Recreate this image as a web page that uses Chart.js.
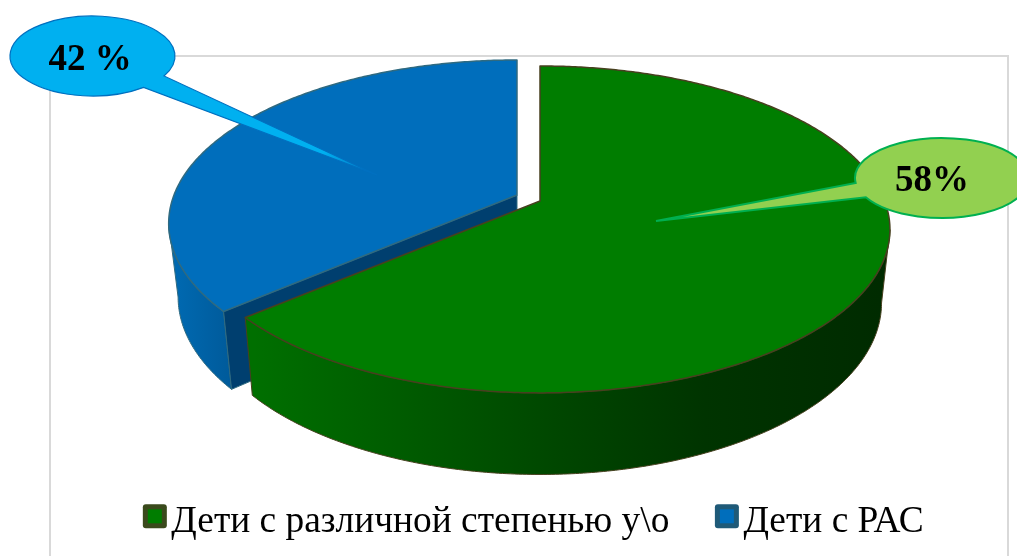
<!DOCTYPE html>
<html>
<head>
<meta charset="utf-8">
<script src="https://cdn.jsdelivr.net/npm/chart.js@4"></script>
<style>
  html, body { margin: 0; padding: 0; background: #fff; overflow: hidden; }
  canvas { display: block; }
</style>
</head>
<body>
<canvas id="pie_chart" width="1017" height="556"></canvas>
<script>
const categories = ['Дети с различной степенью у\\о', 'Дети с РАС'];
const sliceShares = [63.7, 36.3];
const calloutLabels = ['58%', '42 %'];

const serif = '"Liberation Serif", "Times New Roman", serif';
const topColors = ['#007d00', '#006ebc'];
const edgeColors = ['#47401f', '#2f6a80'];
const swatchEdges = ['#3a4a1c', '#1f5a78'];

// perspective of the pie: tilt and foreshortening
const view = {
  apexes: [{ x: 540, y: 201 }, { x: 517, y: 195 }],
  rx: [344.6, 343], ry: 158.5, tilt: 0.174,
  depth: 72, depthGrow: 0.05, shrink: [0.976, 0.973],
  // where the rim turns away from the viewer, in turns of PI from the top
  wallFrom: 0.556, wallTo: 1.444
};

function project(index, angle) {
  const apex = view.apexes[index];
  // chart.js angles start at -PI/2, turn them into clockwise-from-top
  const a = angle + Math.PI / 2;
  const u = Math.sin(a), v = Math.cos(a);
  const k = 1 + view.tilt * v;
  return { x: apex.x + view.rx[index] * u / k, y: apex.y - view.ry * v / k };
}

function drop(index, p) {
  const apex = view.apexes[index];
  return {
    x: apex.x + (p.x - apex.x) * view.shrink[index],
    y: p.y + view.depth + (p.y - apex.y) * view.depthGrow
  };
}

function arcPoints(index, from, to) {
  const pts = [];
  const n = Math.max(2, Math.ceil(Math.abs(to - from) / 0.01));
  for (let i = 0; i <= n; i++) pts.push(project(index, from + (to - from) * i / n));
  return pts;
}

function trace(ctx, pts) {
  pts.forEach((p, i) => (i ? ctx.lineTo(p.x, p.y) : ctx.moveTo(p.x, p.y)));
}

function sideGradient(ctx, index) {
  if (index === 0) {
    const g = ctx.createLinearGradient(254, 0, 880, 0);
    g.addColorStop(0, '#006f00');
    g.addColorStop(0.23, '#005c00');
    g.addColorStop(0.49, '#004600');
    g.addColorStop(0.72, '#003400');
    g.addColorStop(1, '#002b00');
    return g;
  }
  const g = ctx.createLinearGradient(172, 0, 232, 0);
  g.addColorStop(0, '#006ab2');
  g.addColorStop(1, '#005a9a');
  return g;
}

function drawSlice(ctx, arc, index) {
  const apex = view.apexes[index];
  const edge = edgeColors[index];

  // outer wall, only the part turned to the viewer
  const from = Math.max(arc.startAngle, -Math.PI / 2 + Math.PI * view.wallFrom);
  const to = Math.min(arc.endAngle, -Math.PI / 2 + Math.PI * view.wallTo);
  const wallTop = arcPoints(index, from, to);
  const wallBottom = wallTop.map(p => drop(index, p)).reverse();
  ctx.beginPath();
  trace(ctx, wallTop.concat(wallBottom));
  ctx.closePath();
  ctx.fillStyle = sideGradient(ctx, index);
  ctx.fill();
  ctx.lineWidth = 1;
  ctx.strokeStyle = edge;
  ctx.stroke();

  // cut face of the exploded slice
  if (index === 1) {
    const corner = project(index, arc.startAngle);
    ctx.beginPath();
    trace(ctx, [corner, apex, drop(index, apex), drop(index, corner)]);
    ctx.closePath();
    ctx.fillStyle = '#003f6f';
    ctx.fill();
    ctx.stroke();
  }

  // top face
  ctx.beginPath();
  trace(ctx, [apex].concat(arcPoints(index, arc.startAngle, arc.endAngle)));
  ctx.closePath();
  ctx.fillStyle = topColors[index];
  ctx.fill();
  ctx.lineWidth = 1.5;
  ctx.strokeStyle = edge;
  ctx.stroke();
}

function drawCallout(ctx, c, text) {
  const a1 = Math.atan2((c.base1.y - c.y) / c.ry, (c.base1.x - c.x) / c.rx);
  const a2 = Math.atan2((c.base2.y - c.y) / c.ry, (c.base2.x - c.x) / c.rx);
  ctx.beginPath();
  ctx.ellipse(c.x, c.y, c.rx, c.ry, 0, a2, a1, c.ccw);
  ctx.lineTo(c.tip.x, c.tip.y);
  ctx.closePath();
  const g = ctx.createLinearGradient(c.base1.x, c.base1.y, c.tip.x, c.tip.y);
  g.addColorStop(0, c.fill);
  g.addColorStop(0.75, c.fill);
  g.addColorStop(1, c.tipFill);
  ctx.fillStyle = g;
  ctx.fill();
  ctx.lineWidth = c.line;
  ctx.strokeStyle = c.edge;
  ctx.stroke();
  ctx.fillStyle = '#000';
  ctx.font = 'bold 37px ' + serif;
  ctx.textAlign = 'center';
  ctx.textBaseline = 'middle';
  ctx.fillText(text, c.tx, c.ty);
}

const pie3d = {
  id: 'pie3d',
  beforeDraw(chart) {
    const ctx = chart.ctx;
    ctx.save();
    ctx.strokeStyle = '#d9d9d9';
    ctx.lineWidth = 2;
    ctx.strokeRect(50, 56, 958, 520);
    ctx.restore();
  },
  beforeDatasetsDraw(chart) {
    const ctx = chart.ctx;
    const arcs = chart.getDatasetMeta(0).data;
    ctx.save();
    ctx.lineJoin = 'round';
    // blue sits behind, green wall overlaps its cut face
    drawSlice(ctx, arcs[1], 1);
    drawSlice(ctx, arcs[0], 0);
    ctx.restore();
    return false;
  },
  afterDraw(chart) {
    const ctx = chart.ctx;
    ctx.save();
    // legend swatches over the empty boxes the legend leaves
    chart.legend.legendHitBoxes.forEach((box, i) => {
      const left = box.left + 1.5;
      const top = box.top + box.height / 2 - 18;
      ctx.beginPath();
      ctx.roundRect(left, top, 24, 24, 3);
      ctx.fillStyle = swatchEdges[i];
      ctx.fill();
      ctx.fillStyle = topColors[i];
      ctx.fillRect(left + 5, top + 5, 14, 14);
    });
    drawCallout(ctx, {
      x: 942, y: 178, rx: 87, ry: 40,
      base1: { x: 855, y: 183 }, base2: { x: 867, y: 197 }, tip: { x: 656, y: 221 },
      ccw: true, fill: '#92d050', tipFill: '#92d050', edge: '#00b050', line: 2,
      tx: 932, ty: 181
    }, calloutLabels[0]);
    drawCallout(ctx, {
      x: 92.5, y: 56, rx: 82.5, ry: 40,
      base1: { x: 166.7, y: 76.7 }, base2: { x: 143, y: 87 }, tip: { x: 377, y: 175 },
      ccw: false, fill: '#00b0f0', tipFill: '#006ebc', edge: '#0070c0', line: 1.2,
      tx: 90, ty: 60
    }, calloutLabels[1]);
    ctx.restore();
  }
};

new Chart(document.getElementById('pie_chart'), {
  type: 'pie',
  data: {
    labels: categories,
    datasets: [{ data: sliceShares, backgroundColor: topColors, borderColor: edgeColors }]
  },
  plugins: [pie3d],
  options: {
    responsive: false,
    animation: false,
    layout: { padding: { left: 48, bottom: 5 } },
    plugins: {
      tooltip: { enabled: false },
      legend: {
        position: 'bottom',
        labels: {
          font: { family: serif, size: 37.4 },
          color: '#000',
          boxWidth: 11.3,
          boxHeight: 24,
          padding: 44,
          generateLabels: chart => chart.data.labels.map((text, i) => ({
            text, index: i, fillStyle: 'rgba(0,0,0,0)', strokeStyle: 'rgba(0,0,0,0)', lineWidth: 0
          }))
        }
      }
    }
  }
});
</script>
</body>
</html>
